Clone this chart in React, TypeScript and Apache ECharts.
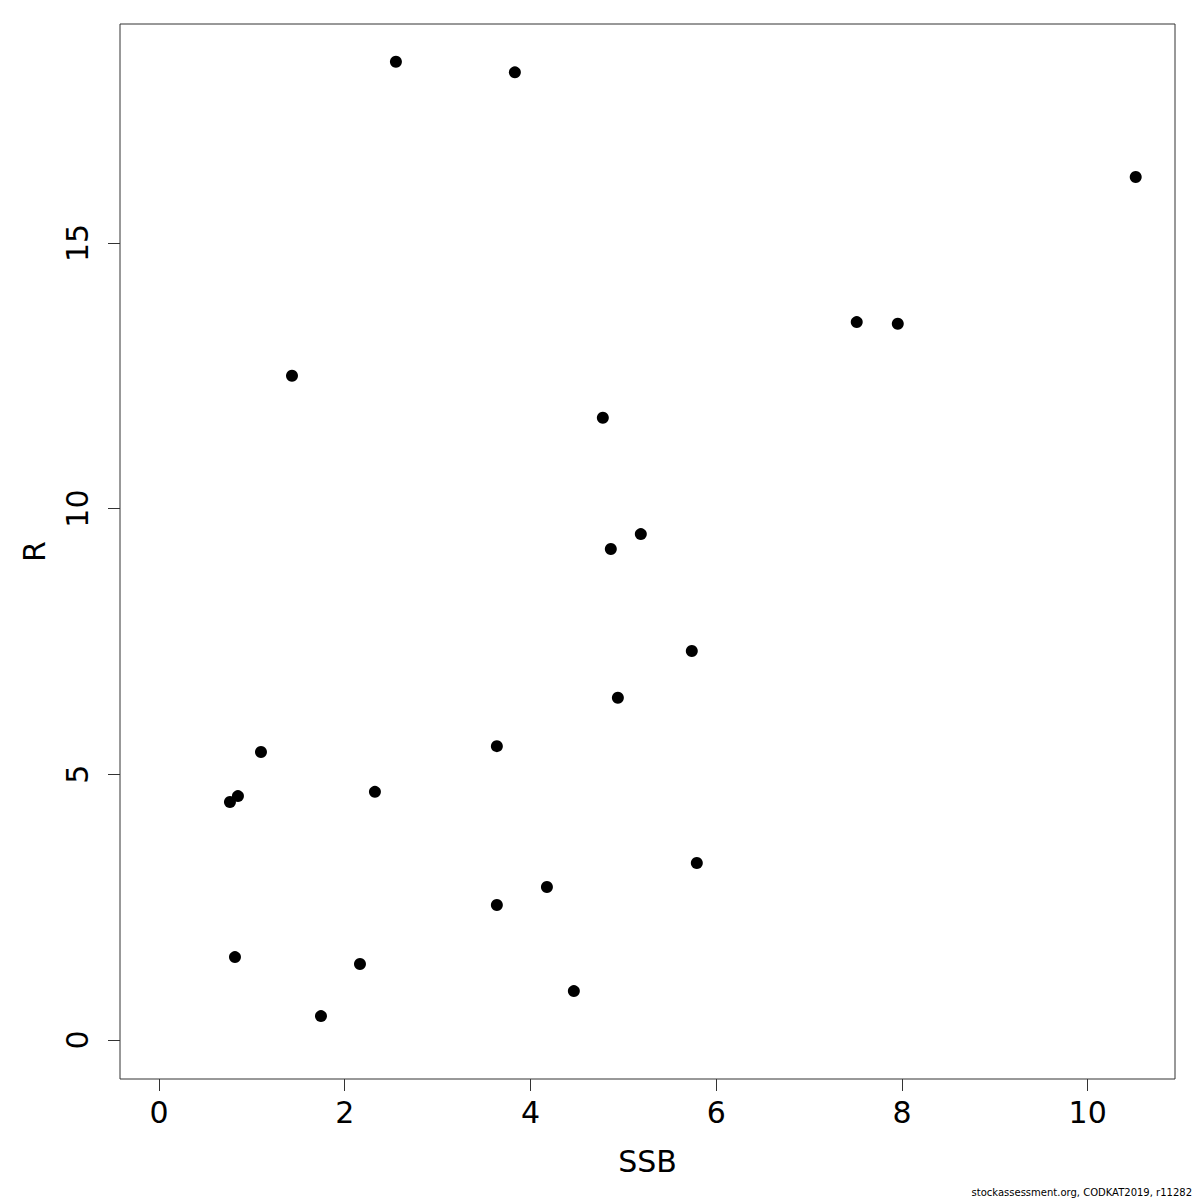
import React, { useEffect, useRef } from "react";
import * as echarts from "echarts";

const ssb = [0.764, 0.85, 1.098, 0.818, 1.432, 1.744, 2.164, 2.325, 2.551, 3.638, 3.638, 3.832, 4.177, 4.467, 4.779, 4.865, 5.188, 4.941, 5.737, 5.791, 7.513, 7.955, 10.517];
const rec = [4.48, 4.59, 5.42, 1.56, 12.5, 0.45, 1.43, 4.67, 18.41, 5.53, 2.54, 18.21, 2.88, 0.92, 11.71, 9.24, 9.52, 6.44, 7.32, 3.33, 13.51, 13.48, 16.24];
const xTicks = [0, 2, 4, 6, 8, 10];
const yTicks = [0, 5, 10, 15];
const footer = "stockassessment.org, CODKAT2019, r11282";

export default function App() {
  const ref = useRef<HTMLDivElement>(null);
  useEffect(() => {
    const chart = echarts.init(ref.current!, null, { renderer: "svg" });
    const font = "DejaVu Sans";
    chart.setOption({
      animation: false,
      backgroundColor: "#fff",
      grid: { left: 120, top: 24, width: 1055, height: 1055, containLabel: false, outerBoundsMode: "none", show: true, borderColor: "#333", borderWidth: 1, backgroundColor: "transparent" },
      xAxis: {
        type: "value", min: -0.42, max: 10.94,
        name: "SSB", nameLocation: "middle", nameGap: 67,
        nameTextStyle: { fontFamily: font, fontSize: 30, color: "#000" },
        axisLine: { show: false, onZero: false },
        splitLine: { show: false },
        axisTick: { show: true, inside: false, length: 12, customValues: xTicks, lineStyle: { color: "#333" } },
        axisLabel: { customValues: xTicks, fontFamily: font, fontSize: 30, color: "#000", margin: 18 },
      },
      yAxis: {
        type: "value", min: -0.734, max: 19.12,
        name: "R", nameLocation: "middle", nameGap: 71, nameRotate: 90,
        nameTextStyle: { fontFamily: font, fontSize: 30, color: "#000" },
        axisLine: { show: false, onZero: false },
        splitLine: { show: false },
        axisTick: { show: true, inside: false, length: 12, customValues: yTicks, lineStyle: { color: "#333" } },
        axisLabel: { customValues: yTicks, rotate: 90, fontFamily: font, fontSize: 30, color: "#000", margin: 28 },
      },
      series: [{
        type: "scatter",
        data: ssb.map((x, i) => [x, rec[i]]),
        symbol: "circle", symbolSize: 12,
        itemStyle: { color: "#000", opacity: 1 },
      }],
      graphic: [{
        type: "text", right: 8, top: 1187,
        style: { text: footer, fontFamily: font, fontSize: 10, fill: "#000" },
      }],
    });
    return () => chart.dispose();
  }, []);
  return <div ref={ref} style={{ width: 1200, height: 1200, position: "absolute", left: 0, top: 0 }} />;
}
